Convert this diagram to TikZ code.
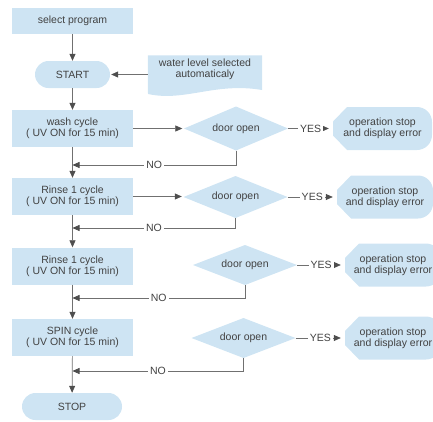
\documentclass[tikz,border=0pt]{standalone}
\usepackage{fontspec}
\setmainfont{Liberation Sans}
\usetikzlibrary{arrows.meta,backgrounds}
\definecolor{boxfill}{RGB}{206,228,243}
\definecolor{linegray}{RGB}{112,112,112}
\definecolor{headgray}{RGB}{78,78,78}
\definecolor{txtgray}{RGB}{66,66,66}

\begin{document}
\begin{tikzpicture}[x=1pt,y=-1pt,
  font=\fontsize{10.5}{11}\selectfont,
  every node/.style={align=center, inner sep=0pt, text=txtgray},
  procbox/.style={fill=boxfill, minimum width=121pt, minimum height=37pt},
  termbox/.style={fill=boxfill, rounded corners=13.5pt, minimum width=75pt, minimum height=27pt},
  decbox/.style={minimum width=104pt, minimum height=44pt,
    path picture={\fill[boxfill] (path picture bounding box.west) -- (path picture bounding box.north)
      -- (path picture bounding box.east) -- (path picture bounding box.south) -- cycle;}},
  dispbox/.style={minimum width=99pt, minimum height=43pt,
    path picture={\fill[boxfill] ([xshift=14pt]path picture bounding box.north west)
      -- ([xshift=-15pt]path picture bounding box.north east)
      arc[start angle=90, end angle=0, radius=15pt]
      -- ([yshift=15pt]path picture bounding box.south east)
      arc[start angle=0, end angle=-90, radius=15pt]
      -- ([xshift=14pt]path picture bounding box.south west)
      -- ([yshift=-7pt]path picture bounding box.west)
      -- ([yshift=7pt]path picture bounding box.west) -- cycle;}},
  arr/.style={draw=linegray, line width=0.7pt,
    -{Triangle[length=7pt,width=6pt,fill=headgray,color=headgray]}},
  lbl/.style={fill=white, inner xsep=2pt, inner ysep=1pt}
]
\useasboundingbox (0,0) rectangle (433,421);

% main column
\node[procbox, minimum height=26pt] (sel) at (72.5,21) {select program};
\node[termbox] (start) at (72.5,74.5) {START};
\node[procbox] (wash) at (72.5,128.5) {wash cycle\\( UV ON for 15 min)};
\node[procbox] (r1) at (72.5,196.5) {Rinse 1 cycle\\( UV ON for 15 min)};
\node[procbox] (r2) at (72.5,266) {Rinse 1 cycle\\( UV ON for 15 min)};
\node[procbox] (spin) at (72.5,337.5) {SPIN cycle\\( UV ON for 15 min)};
\node[termbox, minimum width=100pt] (stop) at (72,406.5) {STOP};

% water level note (document shape)
\node[minimum width=114pt, minimum height=28pt] (wl) at (205,69.5)
  {water level selected\\automaticaly};
\begin{scope}[on background layer]
  \fill[boxfill] (wl.north west) -- (wl.north east) -- (262,90)
    .. controls (215,82) and (185,102) .. (148,94) -- cycle;
\end{scope}

% door checks
\node[decbox] (d1) at (236,128.5) {door open};
\node[decbox, minimum height=42pt] (d2) at (235.5,197) {door open};
\node[decbox, minimum height=40pt] (d3) at (245,265) {door open};
\node[decbox, minimum height=40pt] (d4) at (243.5,338) {door open};

% error displays (the last two run past the right edge)
\node[dispbox] (e1) at (382.5,128.5) {operation stop\\and display error};
\node[dispbox, minimum width=96pt] (e2) at (385,197) {operation stop\\and display error};
\node[dispbox, minimum width=96pt] (e3) at (393,265) {operation stop\\and display error};
\node[dispbox, minimum width=96pt] (e4) at (393,338) {operation stop\\and display error};

% junctions on the main column
\coordinate (j1) at (72.5,165);
\coordinate (j2) at (72.5,228);
\coordinate (j3) at (72.5,298);
\coordinate (j4) at (72.5,371);

% main flow
\draw[arr] (sel) -- (start);
\draw[arr, shorten >=1pt] (start.east -| wl.west) -- (start.east);
\draw[arr] (start) -- (wash);
\draw[arr] (wash) -- (r1);
\draw[arr] (r1) -- (r2);
\draw[arr] (r2) -- (spin);
\draw[arr] (spin) -- (stop);

% to the door checks
\draw[arr, shorten >=1.5pt] (wash.east) -- (wash.east -| d1.west);
\draw[arr, shorten >=1.5pt] (r1.east) -- (r1.east -| d2.west);

% YES branches
\draw[arr, shorten >=4pt] (d1.east) -- node[lbl]{YES} (e1.west);
\draw[arr, shorten >=4pt] (d2.east) -- node[lbl]{YES} (e2.west);
\draw[arr, shorten >=4pt] (d3.east) -- node[lbl]{YES} (e3.west);
\draw[arr, shorten >=4pt] (d4.east) -- node[lbl]{YES} (e4.west);

% NO branches
\draw[arr] (d1.south) |- node[lbl, pos=0.75]{NO} (j1);
\draw[arr] (d2.south) |- node[lbl, pos=0.75]{NO} (j2);
\draw[arr] (d3.south) |- node[lbl, pos=0.75]{NO} (j3);
\draw[arr] (d4.south) |- node[lbl, pos=0.75]{NO} (j4);
\end{tikzpicture}
\end{document}
